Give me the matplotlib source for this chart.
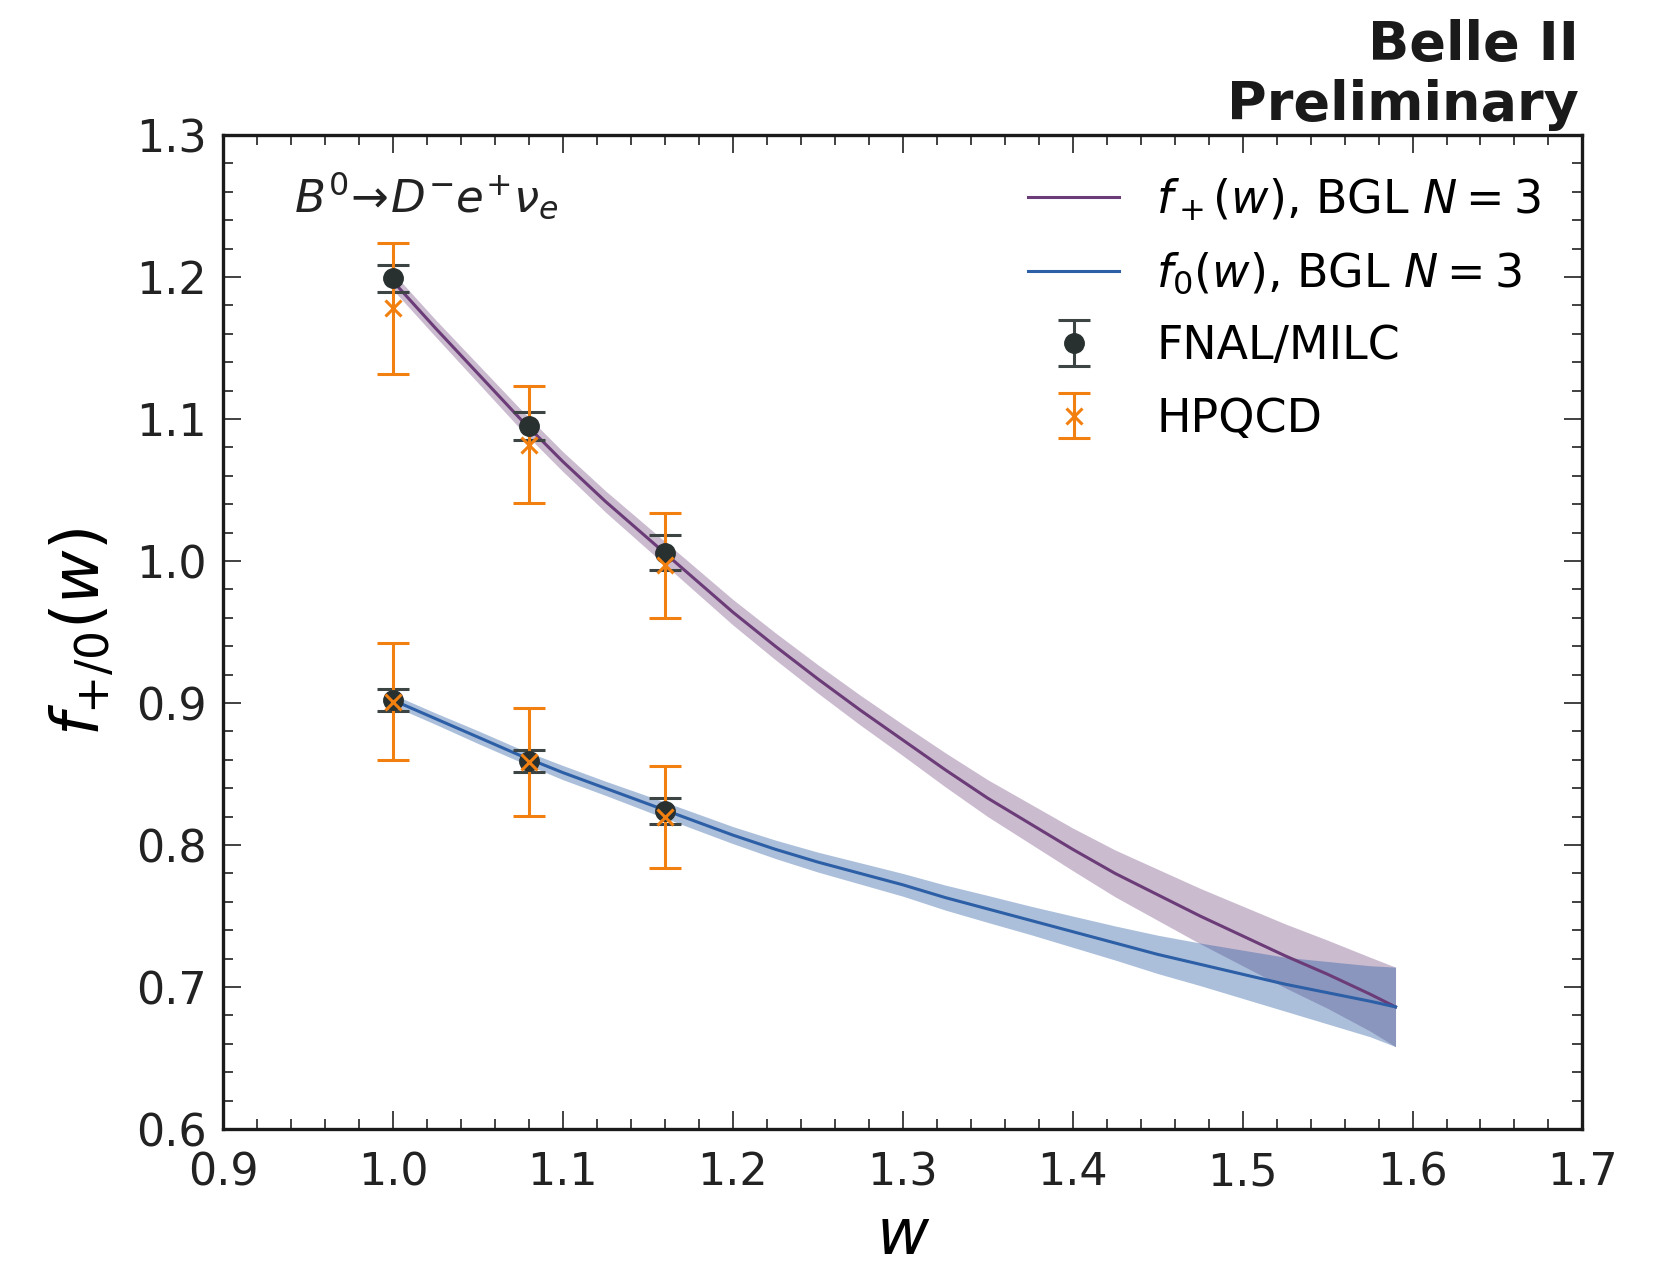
"""Belle II B0 -> D- e+ nu form factors f+/f0 vs w with lattice points."""

import matplotlib
matplotlib.use("Agg")
import matplotlib.pyplot as plt
from matplotlib.ticker import MultipleLocator

# ---- data ----
w_lat = [1.00, 1.08, 1.16]

fnal_fp = [1.199, 1.095, 1.006]
fnal_fp_err = [0.0095, 0.010, 0.012]
fnal_f0 = [0.902, 0.859, 0.824]
fnal_f0_err = [0.0076, 0.0077, 0.0094]

hpqcd_fp = [1.178, 1.082, 0.997]
hpqcd_fp_err = [0.046, 0.041, 0.037]
hpqcd_f0 = [0.901, 0.8585, 0.820]
hpqcd_f0_err = [0.041, 0.038, 0.036]

# BGL N=3 fit curves and their 1-sigma half widths
w_fit = [1.000, 1.025, 1.050, 1.075, 1.100, 1.125, 1.150, 1.175, 1.200, 1.225,
         1.250, 1.275, 1.300, 1.325, 1.350, 1.375, 1.400, 1.425, 1.450, 1.475,
         1.500, 1.525, 1.550, 1.575, 1.590]
fp_fit = [1.197, 1.164, 1.132, 1.100, 1.070, 1.042, 1.016, 0.990, 0.964, 0.940,
          0.917, 0.895, 0.874, 0.853, 0.833, 0.815, 0.797, 0.780, 0.765, 0.750,
          0.736, 0.722, 0.709, 0.695, 0.686]
fp_band = [0.006, 0.006, 0.0065, 0.007, 0.007, 0.0075, 0.008, 0.0085, 0.009, 0.0095,
           0.010, 0.0105, 0.011, 0.012, 0.013, 0.014, 0.015, 0.0165, 0.018, 0.0195,
           0.021, 0.0225, 0.024, 0.026, 0.028]
f0_fit = [0.902, 0.889, 0.876, 0.863, 0.851, 0.840, 0.829, 0.818, 0.807, 0.797,
          0.788, 0.780, 0.772, 0.763, 0.755, 0.747, 0.739, 0.731, 0.723, 0.716,
          0.709, 0.702, 0.696, 0.690, 0.686]
f0_band = [0.004, 0.004, 0.0045, 0.0045, 0.005, 0.005, 0.0055, 0.0058, 0.006, 0.0065,
           0.007, 0.0075, 0.008, 0.0088, 0.0095, 0.010, 0.011, 0.012, 0.0135, 0.015,
           0.017, 0.019, 0.022, 0.025, 0.028]

C_FP = "#6b3c78"
C_F0 = "#2d5fa6"
C_FNAL = "#283030"
C_HPQCD = "#f28010"

plt.rcParams["font.family"] = "DejaVu Sans"
plt.rcParams["mathtext.fontset"] = "dejavusans"

fig = plt.figure(figsize=(16.71, 12.68), dpi=100)
ax = fig.add_axes([0.1335, 0.1096, 0.8135, 0.7839])

lo = [v - e for v, e in zip(fp_fit, fp_band)]
hi = [v + e for v, e in zip(fp_fit, fp_band)]
ax.fill_between(w_fit, lo, hi, color=C_FP, alpha=0.35, lw=0, zorder=1)
ax.plot(w_fit, fp_fit, color=C_FP, lw=2.2, zorder=2, label=r"$f_+(w)$, BGL $N=3$")

lo = [v - e for v, e in zip(f0_fit, f0_band)]
hi = [v + e for v, e in zip(f0_fit, f0_band)]
ax.fill_between(w_fit, lo, hi, color=C_F0, alpha=0.4, lw=0, zorder=1)
ax.plot(w_fit, f0_fit, color=C_F0, lw=2.2, zorder=2, label=r"$f_0(w)$, BGL $N=3$")

eb = dict(ls="none", capsize=11.5, elinewidth=2.2, capthick=2.2)
ax.errorbar(w_lat, fnal_fp, yerr=fnal_fp_err, fmt="o", ms=14, color=C_FNAL,
            ecolor="#3c4444", zorder=3, label="FNAL/MILC", **eb)
ax.errorbar(w_lat, fnal_f0, yerr=fnal_f0_err, fmt="o", ms=14, color=C_FNAL,
            ecolor="#3c4444", zorder=3, **eb)
ax.errorbar(w_lat, hpqcd_fp, yerr=hpqcd_fp_err, fmt="x", ms=11, mew=2.2, color=C_HPQCD,
            zorder=3.05, label="HPQCD", **eb)
ax.errorbar(w_lat, hpqcd_f0, yerr=hpqcd_f0_err, fmt="x", ms=11, mew=2.2, color=C_HPQCD,
            zorder=3.05, **eb)

ax.set_xlim(0.9, 1.7)
ax.set_ylim(0.6, 1.3)
ax.xaxis.set_major_locator(MultipleLocator(0.1))
ax.xaxis.set_minor_locator(MultipleLocator(0.02))
ax.yaxis.set_major_locator(MultipleLocator(0.1))
ax.yaxis.set_minor_locator(MultipleLocator(0.02))
ax.tick_params(which="both", direction="in", top=True, right=True, width=1.3,
               colors="#333333", labelcolor="#222222", labelsize=32)
ax.tick_params(axis="x", which="major", length=13, pad=16)
ax.tick_params(axis="y", which="major", length=13, pad=12)
ax.tick_params(which="minor", length=7)
for s in ax.spines.values():
    s.set_linewidth(2.4)
    s.set_color("#1a1a1a")

ax.set_xlabel(r"$w$", fontsize=46, labelpad=8)
ax.set_ylabel(r"$f_{+/0}(w)$", fontsize=47, labelpad=14)

ax.text(0.052, 0.938, r"$B^0\!\to\! D^{-}e^{+}\nu_e$", transform=ax.transAxes,
        fontsize=32.5, color="#222222", va="center")

fig.text(0.945, 0.985, "Belle II\nPreliminary", ha="right", va="top",
         fontsize=39, fontweight="bold", color="#1a1a1a", linespacing=1.2)

ax.legend(loc="upper left", bbox_to_anchor=(0.592, 0.958), frameon=False, fontsize=33,
          borderpad=0, borderaxespad=0, handlelength=2.0, handletextpad=0.8,
          labelspacing=0.6)

fig.savefig("out.png", dpi=100)
